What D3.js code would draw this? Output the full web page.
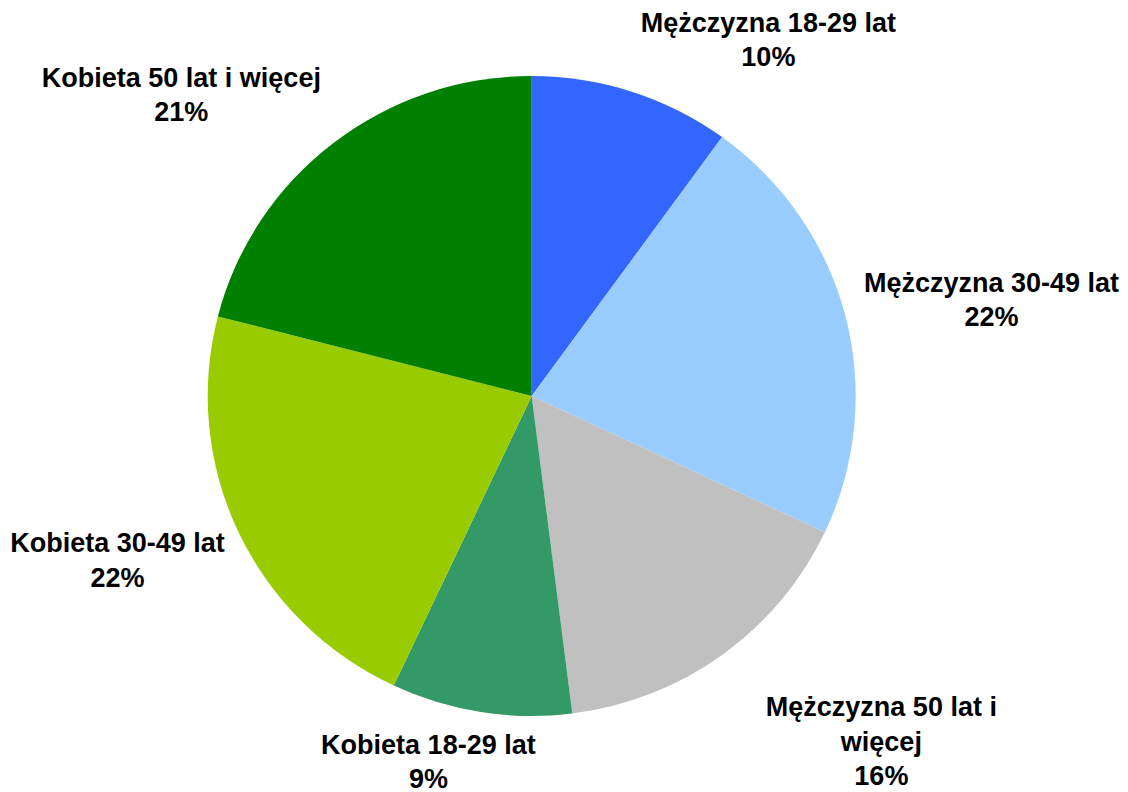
<!DOCTYPE html>
<html>
<head>
<meta charset="utf-8">
<script src="https://cdn.jsdelivr.net/npm/d3@7"></script>
<style>
  html, body { margin: 0; padding: 0; background: #ffffff; }
  svg { display: block; }
  text { font-family: "Liberation Sans", Arial, sans-serif; font-weight: bold; font-size: 27px; fill: #000; }
</style>
</head>
<body>
<svg id="chart" width="1128" height="792"></svg>
<script>
// Respondent structure by sex and age group (percent)
const categories = [
  "Mężczyzna 18-29 lat",
  "Mężczyzna 30-49 lat",
  "Mężczyzna 50 lat i więcej",
  "Kobieta 18-29 lat",
  "Kobieta 30-49 lat",
  "Kobieta 50 lat i więcej"
];
const shares = [10, 22, 16, 9, 22, 21];
const sliceColors = ["#3366FF", "#99CCFF", "#C0C0C0", "#339966", "#99CC00", "#008000"];
// Label text split into lines as printed
const labelLines = [
  ["Mężczyzna 18-29 lat"],
  ["Mężczyzna 30-49 lat"],
  ["Mężczyzna 50 lat i", "więcej"],
  ["Kobieta 18-29 lat"],
  ["Kobieta 30-49 lat"],
  ["Kobieta 50 lat i więcej"]
];

const svg = d3.select("#chart");
const cx = 531.7, cy = 396;
const rx = 324, ry = 320;

const pie = d3.pie().sort(null).value(d => d.value);
const arc = d3.arc().innerRadius(0).outerRadius(ry);

const data = categories.map((c, i) => ({ name: c, value: shares[i], color: sliceColors[i], lines: labelLines[i] }));
const arcs = pie(data);

// Pie is very slightly wider than tall
const g = svg.append("g").attr("transform", `translate(${cx},${cy}) scale(${rx / ry},1)`);

g.selectAll("path.slice")
  .data(arcs)
  .join("path")
  .attr("class", "slice")
  .attr("d", arc)
  .attr("fill", d => d.data.color);

// Label placement outside the pie: radial distance and angular shift (degrees) from slice middle
const labelRadius = [420, 468, 498, 389, 449, 456];
const labelShift = [16.3, 3.7, -8.6, 6.4, 2.5, -12.4];
const lineHeight = 34.5;

const labels = svg.append("g");
arcs.forEach((a, i) => {
  const mid = (a.startAngle + a.endAngle) / 2 + labelShift[i] * Math.PI / 180;
  const lx = cx + Math.sin(mid) * labelRadius[i];
  const ly = cy - Math.cos(mid) * labelRadius[i];
  const lines = a.data.lines.concat([d3.format(".0f")(a.data.value) + "%"]);
  const total = lines.length;
  const t = labels.append("text").attr("text-anchor", "middle");
  lines.forEach((ln, k) => {
    t.append("tspan")
      .attr("x", lx)
      .attr("y", ly + (k - (total - 1) / 2) * lineHeight)
      .text(ln);
  });
});
</script>
</body>
</html>
